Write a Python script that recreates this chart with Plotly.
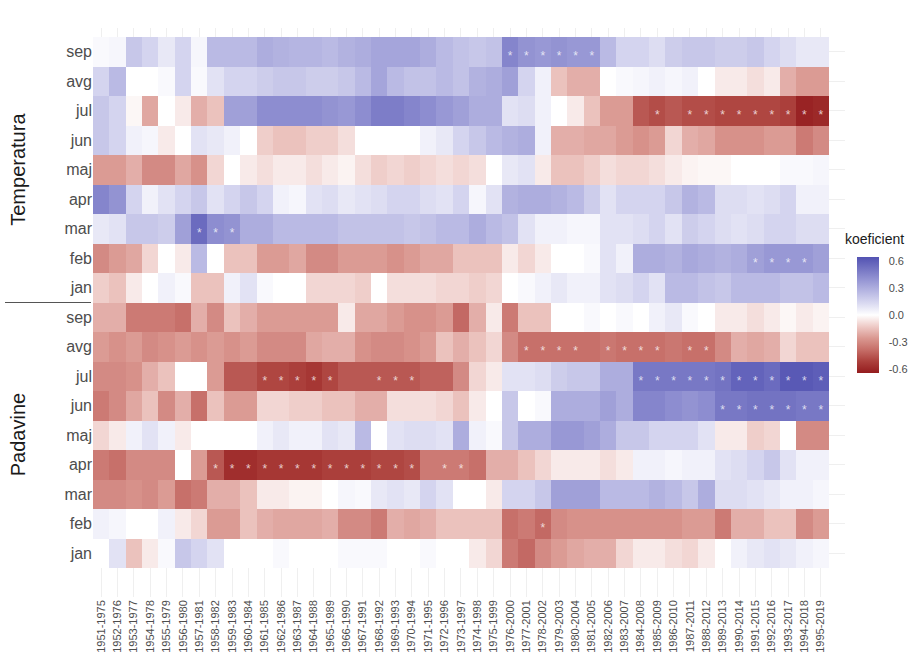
import plotly.graph_objects as go

# 25-year moving windows (columns)
periods = [
    "1951-1975", "1952-1976", "1953-1977", "1954-1978", "1955-1979", "1956-1980",
    "1957-1981", "1958-1982", "1959-1983", "1960-1984", "1961-1985", "1962-1986",
    "1963-1987", "1964-1988", "1965-1989", "1966-1990", "1967-1991", "1968-1992",
    "1969-1993", "1970-1994", "1971-1995", "1972-1996", "1973-1997", "1974-1998",
    "1975-1999", "1976-2000", "1977-2001", "1978-2002", "1979-2003", "1980-2004",
    "1981-2005", "1982-2006", "1983-2007", "1984-2008", "1985-2009", "1986-2010",
    "1987-2011", "1988-2012", "1989-2013", "1990-2014", "1991-2015", "1992-2016",
    "1993-2017", "1994-2018", "1995-2019",
]

months = ["sep", "avg", "jul", "jun", "maj", "apr", "mar", "feb", "jan"]
groups = ["Temperatura", "Padavine"]

# Correlation coefficients, temperature
temp_sep = [0.02, 0.03, 0.20, 0.15, 0.08, 0.15, 0.03, 0.25, 0.25, 0.25,
            0.30, 0.28, 0.27, 0.27, 0.25, 0.28, 0.30, 0.33, 0.33, 0.33,
            0.30, 0.25, 0.22, 0.20, 0.22, 0.45, 0.40, 0.38, 0.40, 0.38,
            0.38, 0.25, 0.15, 0.15, 0.12, 0.18, 0.20, 0.20, 0.18, 0.18,
            0.20, 0.15, 0.12, 0.08, 0.08]
temp_avg = [0.15, 0.25, 0.00, 0.00, 0.02, 0.15, 0.02, 0.10, 0.15, 0.15,
            0.18, 0.20, 0.20, 0.18, 0.18, 0.20, 0.25, 0.33, 0.25, 0.22,
            0.22, 0.25, 0.22, 0.28, 0.30, 0.35, 0.15, 0.05, -0.15, -0.20,
            -0.20, 0.00, 0.02, 0.03, 0.05, 0.03, 0.05, 0.00, -0.05, -0.05,
            -0.08, -0.05, -0.20, -0.25, -0.25]
temp_jul = [0.20, 0.15, -0.02, -0.22, 0.00, -0.05, -0.20, -0.15, 0.35, 0.35,
            0.42, 0.42, 0.42, 0.42, 0.40, 0.38, 0.42, 0.48, 0.48, 0.45,
            0.42, 0.38, 0.35, 0.30, 0.30, 0.10, 0.12, 0.05, 0.00, -0.05,
            -0.15, -0.25, -0.25, -0.45, -0.48, -0.45, -0.48, -0.48, -0.50, -0.50,
            -0.50, -0.50, -0.52, -0.62, -0.60]
temp_jun = [0.20, 0.15, 0.05, 0.03, -0.05, 0.00, 0.10, 0.08, 0.05, 0.00,
            -0.12, -0.15, -0.15, -0.12, -0.12, -0.08, 0.00, 0.00, 0.00, 0.00,
            0.05, 0.08, 0.15, 0.20, 0.25, 0.28, 0.30, 0.05, -0.20, -0.20,
            -0.22, -0.22, -0.25, -0.28, -0.25, -0.10, -0.20, -0.22, -0.28, -0.28,
            -0.28, -0.25, -0.25, -0.35, -0.30]
temp_maj = [-0.25, -0.25, -0.20, -0.30, -0.30, -0.22, -0.28, -0.10, 0.00, -0.05,
            -0.08, -0.05, -0.05, -0.08, -0.05, -0.03, -0.08, -0.12, -0.10, -0.12,
            -0.10, -0.08, -0.10, -0.08, 0.00, 0.08, 0.10, -0.05, -0.15, -0.15,
            -0.12, -0.08, -0.10, -0.10, -0.08, -0.05, -0.03, -0.02, -0.02, 0.00,
            0.00, 0.00, 0.02, 0.02, 0.03]
temp_apr = [0.45, 0.40, 0.15, 0.05, 0.10, 0.15, 0.20, 0.10, 0.15, 0.20,
            0.15, 0.05, 0.03, 0.10, 0.12, 0.08, 0.10, 0.12, 0.15, 0.15,
            0.12, 0.10, 0.15, 0.03, 0.10, 0.28, 0.30, 0.30, 0.28, 0.25,
            0.18, 0.10, 0.15, 0.15, 0.15, 0.20, 0.28, 0.25, 0.12, 0.12,
            0.10, 0.12, 0.15, 0.05, 0.05]
temp_mar = [0.08, 0.10, 0.20, 0.20, 0.18, 0.35, 0.55, 0.42, 0.40, 0.30,
            0.30, 0.25, 0.25, 0.25, 0.25, 0.22, 0.22, 0.22, 0.22, 0.20,
            0.22, 0.25, 0.25, 0.30, 0.25, 0.22, 0.10, 0.05, 0.05, 0.03,
            0.03, 0.10, 0.10, 0.12, 0.15, 0.10, 0.18, 0.15, 0.12, 0.10,
            0.12, 0.15, 0.15, 0.12, 0.12]
temp_feb = [-0.30, -0.25, -0.22, -0.10, 0.00, -0.05, 0.25, 0.00, -0.15, -0.15,
            -0.25, -0.25, -0.22, -0.30, -0.30, -0.25, -0.25, -0.25, -0.28, -0.25,
            -0.22, -0.22, -0.15, -0.15, -0.15, -0.05, -0.10, -0.05, 0.00, 0.00,
            0.02, 0.10, 0.05, 0.30, 0.30, 0.28, 0.32, 0.30, 0.28, 0.30,
            0.35, 0.38, 0.38, 0.38, 0.35]
temp_jan = [-0.12, -0.15, -0.05, 0.00, 0.05, 0.02, -0.15, -0.15, 0.05, 0.10,
            0.02, 0.00, 0.00, -0.10, -0.10, -0.10, -0.12, 0.00, -0.08, -0.08,
            -0.08, -0.10, -0.10, -0.12, -0.10, 0.00, 0.02, 0.05, 0.08, 0.05,
            0.05, 0.10, 0.12, 0.15, 0.10, 0.25, 0.25, 0.22, 0.20, 0.25,
            0.25, 0.25, 0.22, 0.22, 0.25]

# Correlation coefficients, precipitation
pad_sep = [-0.20, -0.20, -0.35, -0.35, -0.35, -0.38, -0.20, -0.30, -0.15, -0.20,
           -0.25, -0.25, -0.25, -0.25, -0.25, -0.05, -0.22, -0.22, -0.25, -0.28,
           -0.28, -0.25, -0.40, -0.20, -0.05, -0.35, -0.15, -0.15, 0.00, 0.00,
           0.02, 0.00, 0.02, 0.00, 0.05, 0.08, 0.02, 0.00, -0.05, -0.05,
           -0.08, -0.05, -0.02, -0.05, -0.03]
pad_avg = [-0.25, -0.28, -0.25, -0.30, -0.28, -0.25, -0.28, -0.25, -0.28, -0.25,
           -0.30, -0.30, -0.30, -0.22, -0.20, -0.20, -0.28, -0.30, -0.30, -0.28,
           -0.25, -0.15, -0.20, -0.15, -0.10, -0.30, -0.38, -0.38, -0.38, -0.38,
           -0.38, -0.36, -0.38, -0.38, -0.38, -0.36, -0.38, -0.38, -0.30, -0.20,
           -0.22, -0.20, -0.10, -0.15, -0.15]
pad_jul = [-0.30, -0.30, -0.28, -0.20, -0.15, 0.00, 0.00, -0.25, -0.45, -0.45,
           -0.50, -0.50, -0.52, -0.55, -0.50, -0.45, -0.45, -0.45, -0.45, -0.45,
           -0.42, -0.42, -0.30, -0.10, -0.05, 0.10, 0.10, 0.12, 0.18, 0.20,
           0.20, 0.30, 0.30, 0.50, 0.50, 0.50, 0.50, 0.50, 0.52, 0.58,
           0.58, 0.55, 0.62, 0.62, 0.60]
pad_jun = [-0.35, -0.30, -0.22, -0.15, -0.30, -0.20, -0.38, -0.15, -0.25, -0.25,
           -0.10, -0.10, -0.12, -0.12, -0.15, -0.15, -0.20, -0.20, -0.08, -0.08,
           -0.08, -0.10, -0.15, -0.05, 0.00, 0.20, 0.00, 0.02, 0.30, 0.30,
           0.30, 0.35, 0.30, 0.45, 0.45, 0.42, 0.40, 0.42, 0.50, 0.50,
           0.52, 0.52, 0.52, 0.50, 0.50]
pad_maj = [-0.10, -0.05, 0.05, 0.10, 0.05, -0.05, 0.00, 0.00, 0.00, 0.00,
           0.05, 0.08, 0.05, 0.05, 0.10, 0.08, 0.25, 0.00, 0.10, 0.12,
           0.12, 0.10, 0.30, 0.05, 0.02, 0.20, 0.30, 0.30, 0.38, 0.38,
           0.35, 0.30, 0.20, 0.20, 0.15, 0.15, 0.15, 0.10, -0.05, -0.05,
           -0.12, -0.10, 0.00, -0.30, -0.30]
pad_apr = [-0.35, -0.38, -0.30, -0.30, -0.30, 0.00, -0.25, -0.45, -0.58, -0.58,
           -0.55, -0.55, -0.55, -0.55, -0.52, -0.52, -0.52, -0.50, -0.50, -0.48,
           -0.35, -0.35, -0.35, -0.38, -0.20, -0.20, -0.15, -0.10, -0.05, -0.05,
           -0.05, -0.08, -0.05, 0.05, 0.05, 0.03, 0.05, 0.05, 0.10, 0.12,
           0.15, 0.20, 0.10, 0.05, 0.05]
pad_mar = [-0.30, -0.30, -0.28, -0.30, -0.25, -0.38, -0.35, -0.20, -0.20, -0.15,
           -0.05, -0.05, -0.03, -0.03, 0.00, 0.03, 0.02, 0.08, 0.10, 0.08,
           0.15, 0.10, 0.00, 0.00, -0.05, 0.15, 0.15, 0.20, 0.35, 0.35,
           0.35, 0.25, 0.25, 0.25, 0.28, 0.25, 0.20, 0.30, 0.12, 0.12,
           0.10, 0.08, 0.05, 0.05, 0.03]
pad_feb = [0.05, 0.03, 0.00, 0.00, 0.05, -0.05, -0.10, -0.25, -0.25, -0.15,
           -0.20, -0.22, -0.22, -0.22, -0.20, -0.30, -0.30, -0.35, -0.20, -0.22,
           -0.20, -0.15, -0.15, -0.15, -0.15, -0.38, -0.35, -0.40, -0.30, -0.28,
           -0.28, -0.28, -0.28, -0.28, -0.28, -0.28, -0.25, -0.25, -0.35, -0.20,
           -0.20, -0.15, -0.15, -0.30, -0.25]
pad_jan = [0.00, 0.10, -0.15, -0.05, 0.02, 0.20, 0.15, 0.10, 0.00, 0.00,
           0.00, 0.02, 0.00, 0.00, 0.00, 0.02, 0.02, 0.02, 0.00, 0.00,
           0.02, 0.00, 0.00, -0.05, -0.10, -0.35, -0.40, -0.30, -0.25, -0.22,
           -0.20, -0.20, -0.10, -0.05, -0.05, -0.08, -0.10, -0.05, 0.00, 0.05,
           0.08, 0.10, 0.08, 0.05, 0.03]

# Significant windows (column indices) per row, rows listed top to bottom
sig_temp_sep = [25, 26, 27, 28, 29, 30]
sig_temp_jul = [34, 36, 37, 38, 39, 40, 41, 42, 43, 44]
sig_temp_mar = [6, 7, 8]
sig_temp_feb = [40, 41, 42, 43]
sig_pad_avg = [26, 27, 28, 29, 31, 32, 33, 34, 36, 37]
sig_pad_jul = [10, 11, 12, 13, 14, 17, 18, 19, 33, 34, 35, 36, 37, 38, 39, 40, 41, 42, 43, 44]
sig_pad_jun = [38, 39, 40, 41, 42, 43, 44]
sig_pad_apr = [7, 8, 9, 10, 11, 12, 13, 14, 15, 16, 17, 18, 19, 21, 22]
sig_pad_feb = [27]

rows = [temp_sep, temp_avg, temp_jul, temp_jun, temp_maj, temp_apr, temp_mar, temp_feb, temp_jan,
        pad_sep, pad_avg, pad_jul, pad_jun, pad_maj, pad_apr, pad_mar, pad_feb, pad_jan]
row_labels = months + months
significance = {0: sig_temp_sep, 2: sig_temp_jul, 6: sig_temp_mar, 7: sig_temp_feb,
                10: sig_pad_avg, 11: sig_pad_jul, 12: sig_pad_jun, 14: sig_pad_apr, 16: sig_pad_feb}

n_cols = len(periods)
n_rows = len(rows)

colorscale = [
    [0.00, "rgb(148,28,30)"],
    [0.10, "rgb(172,64,60)"],
    [0.20, "rgb(198,110,104)"],
    [0.30, "rgb(218,152,145)"],
    [0.40, "rgb(238,202,198)"],
    [0.50, "rgb(255,255,255)"],
    [0.60, "rgb(218,218,241)"],
    [0.70, "rgb(184,184,227)"],
    [0.80, "rgb(150,150,212)"],
    [0.90, "rgb(116,116,195)"],
    [1.00, "rgb(82,82,178)"],
]

# plot area in pixels: x 93..845, y 28..597
L, R, T, B = 93, 71, 28, 64
W, H = 916, 661
pw, ph = W - L - R, H - T - B

fig = go.Figure()
fig.add_trace(go.Heatmap(
    z=rows,
    x=list(range(n_cols)),
    y=list(range(n_rows)),
    colorscale=colorscale,
    zmin=-0.645, zmax=0.645,
    xgap=0, ygap=0,
    colorbar=dict(
        x=(857 - L) / pw, xanchor="left", xpad=0,
        y=1 - (315 - T) / ph, yanchor="middle", ypad=0,
        lenmode="pixels", len=116,
        thickness=22, outlinewidth=0,
        tickvals=[-0.6, -0.3, 0.0, 0.3, 0.6],
        ticktext=["-0.6", "-0.3", "0.0", "0.3", "0.6"],
        tickfont=dict(size=11, color="#4d4d4d"),
        ticks="outside", ticklen=8, tickcolor="rgba(0,0,0,0)",
    ),
))

# significance asterisks
sx, sy = [], []
for r, cols in significance.items():
    for c in cols:
        sx.append(c)
        sy.append(r + 0.18)
fig.add_trace(go.Scatter(
    x=sx, y=sy, mode="text", text=["*"] * len(sx),
    textfont=dict(size=12, color="rgba(255,255,255,0.75)"),
    hoverinfo="skip", showlegend=False,
))

fig.update_layout(
    width=W, height=H,
    margin=dict(l=L, r=R, t=T, b=B, autoexpand=False),
    paper_bgcolor="white", plot_bgcolor="white",
    font=dict(family="Liberation Sans, Arial, sans-serif"),
    showlegend=False,
    xaxis=dict(
        tickmode="array", tickvals=list(range(n_cols)), ticktext=periods,
        tickangle=-90, tickfont=dict(size=11, color="#4d4d4d"),
        range=[-0.5, n_cols - 0.5 + 0.98],
        showgrid=True, gridcolor="#efefef", gridwidth=1,
        zeroline=False, showline=False, ticks="",
    ),
    yaxis=dict(
        tickmode="array", tickvals=list(range(n_rows)), ticktext=row_labels,
        tickfont=dict(size=16, color="#4d4d4d"),
        range=[n_rows - 0.5 + 0.983, -0.805],
        showgrid=True, gridcolor="#efefef", gridwidth=1,
        zeroline=False, showline=False, ticks="",
    ),
)

# colour bar title
fig.add_annotation(
    text="koeficient", showarrow=False,
    xref="paper", x=(843 - L) / pw, xanchor="left",
    yref="paper", y=1 - (249 - T) / ph, yanchor="bottom",
    font=dict(size=14, color="#1a1a1a"),
)

# facet labels on the left
group_size = len(months)
for i, g in enumerate(groups):
    fig.add_annotation(
        text=g, textangle=-90, showarrow=False,
        xref="paper", x=(18 - L) / pw, xanchor="center",
        yref="y", y=i * group_size + (group_size - 1) / 2, yanchor="middle",
        font=dict(size=20, color="#1a1a1a"),
    )

# separator between the two groups
fig.add_shape(type="line", xref="paper", x0=(5 - L) / pw, x1=(91 - L) / pw,
              yref="y", y0=group_size - 0.5, y1=group_size - 0.5,
              line=dict(color="#555555", width=1.2))

fig.write_html("out.html")
